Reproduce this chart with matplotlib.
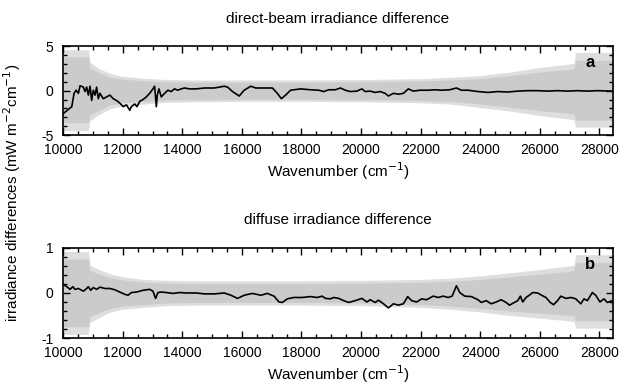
import numpy as np
import matplotlib
matplotlib.use("Agg")
import matplotlib.pyplot as plt
from matplotlib.ticker import MultipleLocator

plt.rcParams['font.family'] = ['Liberation Sans', 'DejaVu Sans']
plt.rcParams['axes.unicode_minus'] = False

# grey uncertainty band (envelope knots)
band_wn = [10000, 10850, 10900, 11200, 11600, 12000, 12700, 13500, 14500, 16000, 18000,
           20000, 22000, 23000, 24000, 25000, 26000, 27000, 27150, 27200, 28500]
# outer (tips of the stripes)
band_a_hi = [4.6, 4.6, 3.2, 2.5, 1.9, 1.6, 1.4, 1.25, 1.2, 1.2, 1.2,
             1.25, 1.35, 1.5, 1.7, 2.1, 2.6, 3.0, 3.1, 4.3, 4.3]
band_a_lo = [-4.5, -4.5, -3.4, -2.7, -2.0, -1.7, -1.5, -1.3, -1.25, -1.2, -1.2,
             -1.25, -1.35, -1.5, -1.9, -2.3, -2.8, -3.2, -3.3, -4.1, -4.1]
band_b_hi = [0.92, 0.92, 0.62, 0.52, 0.42, 0.36, 0.3, 0.28, 0.27, 0.27, 0.27,
             0.28, 0.3, 0.33, 0.38, 0.45, 0.52, 0.6, 0.62, 0.85, 0.85]
band_b_lo = [-0.92, -0.92, -0.65, -0.55, -0.42, -0.36, -0.32, -0.28, -0.27, -0.27, -0.27,
             -0.28, -0.32, -0.36, -0.42, -0.5, -0.56, -0.62, -0.64, -0.78, -0.78]
# inner (solid part)
band_a_in_hi = [3.8, 3.8, 2.6, 2.0, 1.5, 1.3, 1.1, 1.0, 0.95, 0.95, 0.95,
                1.0, 1.1, 1.2, 1.35, 1.7, 2.1, 2.4, 2.5, 3.4, 3.4]
band_a_in_lo = [-3.6, -3.6, -2.7, -2.2, -1.6, -1.35, -1.2, -1.05, -1.0, -0.95, -0.95,
                -1.0, -1.1, -1.2, -1.5, -1.85, -2.25, -2.55, -2.65, -3.3, -3.3]
band_b_in_hi = [0.75, 0.75, 0.5, 0.42, 0.34, 0.29, 0.24, 0.22, 0.21, 0.21, 0.21,
                0.22, 0.24, 0.26, 0.3, 0.36, 0.42, 0.48, 0.5, 0.68, 0.68]
band_b_in_lo = [-0.75, -0.75, -0.52, -0.44, -0.34, -0.29, -0.26, -0.22, -0.21, -0.21, -0.21,
                -0.22, -0.26, -0.29, -0.34, -0.4, -0.45, -0.5, -0.51, -0.62, -0.62]

# direct-beam difference (panel a)
wn_a = [10000, 10067, 10290, 10367, 10434, 10511, 10568, 10678, 10735, 10790, 10846, 10902,
        10958, 11012, 11070, 11124, 11180, 11235, 11347, 11457, 11570, 11680, 11792, 11903,
        12014, 12125, 12236, 12290, 12403, 12480, 12570, 12680, 12793, 12904, 13015, 13070,
        13128, 13160, 13215, 13294, 13405, 13516, 13627, 13738, 13850, 13961, 14072, 14239,
        14462, 14741, 15075, 15409, 15520, 15687, 15910, 16077, 16300, 16467, 16745, 17023,
        17190, 17324, 17468, 17635, 17969, 18303, 18581, 18748, 18915, 19138, 19305, 19472,
        19639, 19861, 20028, 20140, 20307, 20474, 20641, 20808, 20919, 21086, 21253, 21420,
        21587, 21754, 21977, 22255, 22478, 22700, 22979, 23201, 23368, 23591, 23923, 24257,
        24591, 24925, 25259, 25593, 25927, 26261, 26595, 26929, 27263, 27596, 27930, 28376, 28500]
diff_a = [-2.6, -2.4, -1.8, -0.3, 0.05, -0.3, 0.55, 0.4, -0.1, 0.4, -0.5, 0.5,
          -1.1, 0.05, -0.5, 0.4, -0.9, -0.3, -0.9, -0.7, -0.5, -0.9, -1.1, -1.4,
          -1.8, -1.6, -2.2, -1.8, -1.5, -1.8, -1.2, -1.0, -0.7, -0.3, 0.2, 0.5,
          -1.8, -0.5, 0.2, -0.7, -0.3, 0.05, -0.1, 0.2, 0.05, 0.2, 0.3, 0.2,
          0.2, 0.3, 0.3, 0.5, 0.4, -0.1, -0.6, 0.05, 0.5, 0.3, 0.3, 0.3,
          -0.3, -0.9, -0.5, 0.05, 0.2, 0.1, 0.05, -0.1, 0.1, 0.1, 0.3, 0.05,
          -0.1, -0.05, 0.2, -0.1, -0.05, -0.2, -0.1, -0.3, -0.6, -0.3, -0.4, -0.3,
          0.2, -0.05, 0.05, 0.05, 0.1, 0.05, 0.1, 0.3, 0.05, 0.05, -0.1, -0.2,
          -0.1, -0.15, -0.05, 0.0, 0.0, -0.05, 0.0, -0.05, 0.0, -0.05, 0.0, -0.05, -0.05]

# diffuse difference (panel b)
wn_b = [10000, 10123, 10234, 10323, 10400, 10512, 10679, 10790, 10846, 10924, 11012, 11124,
        11235, 11402, 11570, 11737, 11903, 12070, 12180, 12292, 12459, 12682, 12904, 13015,
        13104, 13182, 13294, 13461, 13683, 13906, 14128, 14462, 14741, 15075, 15409, 15632,
        15854, 16077, 16356, 16634, 16856, 17079, 17246, 17357, 17524, 17746, 18025, 18303,
        18526, 18692, 18804, 18971, 19082, 19249, 19416, 19583, 19806, 20028, 20195, 20307,
        20474, 20585, 20752, 20919, 21086, 21253, 21420, 21565, 21698, 21865, 22032, 22199,
        22422, 22589, 22756, 22923, 23057, 23201, 23312, 23479, 23702, 23923, 24034, 24201,
        24368, 24535, 24702, 24870, 24981, 25148, 25259, 25348, 25426, 25537, 25649, 25760,
        25927, 26061, 26205, 26350, 26461, 26595, 26706, 26873, 27040, 27207, 27374, 27485,
        27596, 27763, 27874, 28019, 28153, 28264, 28431, 28500]
diff_b = [0.19, 0.14, 0.08, 0.14, 0.08, 0.1, 0.04, 0.1, 0.14, 0.06, 0.12, 0.08,
          0.13, 0.1, 0.1, 0.07, 0.02, -0.03, -0.05, 0.01, 0.02, 0.06, 0.08, 0.04,
          -0.12, 0.01, 0.02, 0.01, -0.01, 0.01, 0.0, 0.0, -0.02, -0.02, 0.0, -0.05,
          -0.12, -0.05, -0.01, -0.05, -0.01, -0.07, -0.2, -0.21, -0.13, -0.1, -0.1, -0.08,
          -0.1, -0.07, -0.12, -0.13, -0.1, -0.12, -0.17, -0.21, -0.17, -0.12, -0.2, -0.15,
          -0.21, -0.16, -0.24, -0.33, -0.24, -0.27, -0.24, -0.08, -0.17, -0.2, -0.13, -0.15,
          -0.07, -0.1, -0.07, -0.1, -0.07, 0.16, 0.01, -0.07, -0.08, -0.15, -0.21, -0.17,
          -0.24, -0.2, -0.15, -0.21, -0.27, -0.21, -0.17, -0.07, -0.2, -0.1, -0.05, 0.01,
          0.0, -0.05, -0.1, -0.21, -0.26, -0.17, -0.07, -0.12, -0.1, -0.13, -0.24, -0.13,
          -0.17, 0.01, -0.05, -0.2, -0.13, -0.21, -0.17, -0.2]

fig = plt.figure(figsize=(6.19, 3.85), dpi=100)
ax1 = fig.add_axes([0.102, 0.649, 0.888, 0.231])
ax2 = fig.add_axes([0.102, 0.122, 0.888, 0.234])

panels = [
    (ax1, band_a_hi, band_a_lo, band_a_in_hi, band_a_in_lo, wn_a, diff_a,
     (-5, 5), [-5, 0, 5], 1, "a", "direct-beam irradiance difference"),
    (ax2, band_b_hi, band_b_lo, band_b_in_hi, band_b_in_lo, wn_b, diff_b,
     (-1, 1), [-1, 0, 1], 0.2, "b", "diffuse irradiance difference"),
]

for ax, hi, lo, ihi, ilo, wn, d, ylim, yt, ymin, lab, title in panels:
    ax.fill_between(band_wn, lo, hi, color="#dedede", lw=0)
    ax.fill_between(band_wn, ilo, ihi, color="#cbcbcb", lw=0)
    ax.plot(wn, d, color="black", lw=1.2)
    ax.set_xlim(10000, 28450)
    ax.set_ylim(*ylim)
    ax.set_xticks(np.arange(10000, 28001, 2000))
    ax.xaxis.set_minor_locator(MultipleLocator(500))
    ax.set_yticks(yt)
    ax.set_yticklabels([str(v) for v in yt])
    ax.yaxis.set_minor_locator(MultipleLocator(ymin))
    ax.tick_params(which="both", direction="in", top=True, right=True, labelsize=10, width=1)
    ax.tick_params(which="major", length=5)
    ax.tick_params(which="minor", length=3)
    ax.tick_params(axis="x", pad=6)
    ax.tick_params(axis="y", pad=7)
    for s in ax.spines.values():
        s.set_linewidth(1.2)
    ax.set_xlabel("Wavenumber (cm$^{-1}$)", fontsize=11, labelpad=2)
    ax.set_title(title, fontsize=11, pad=17)
    ax.text(0.958, 0.82, lab, transform=ax.transAxes, fontsize=12, fontweight="bold",
            ha="center", va="center")

fig.text(0.02, 0.5, "irradiance differences (mW m$^{-2}$cm$^{-1}$)", rotation=90,
         ha="center", va="center", fontsize=11)

fig.savefig("out.png", dpi=100)
